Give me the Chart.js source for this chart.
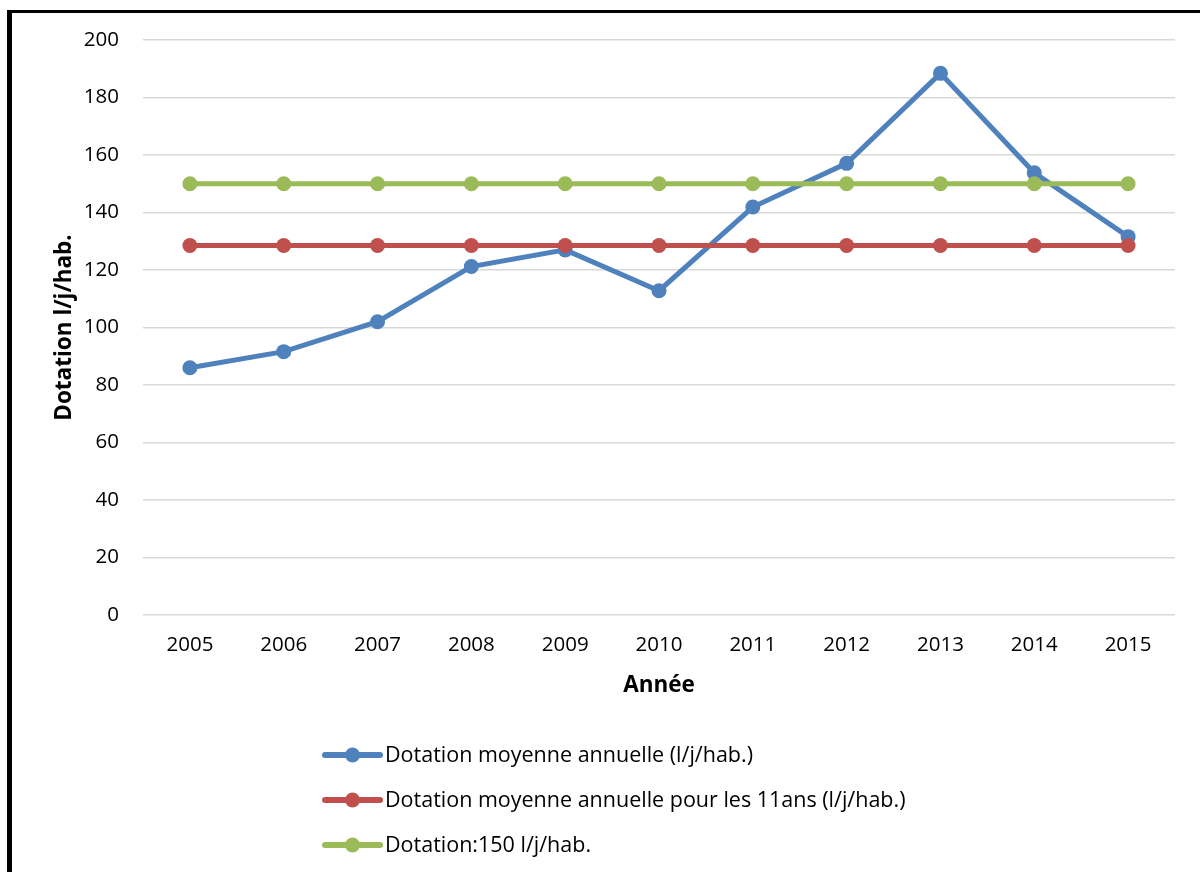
<!DOCTYPE html>
<html>
<head>
<meta charset="utf-8">
<script src="https://cdn.jsdelivr.net/npm/chart.js@4/dist/chart.umd.min.js"></script>
<style>
  html, body { margin: 0; padding: 0; background: #ffffff; }
  #wrap { width: 1200px; height: 872px; position: relative; }
</style>
</head>
<body>
<div id="wrap"><canvas id="c" width="1200" height="872"></canvas></div>
<script>
// Années et dotations (l/j/hab.)
const years = ['2005', '2006', '2007', '2008', '2009', '2010', '2011', '2012', '2013', '2014', '2015'];
const dotationAnnuelle = [86, 91.6, 102, 121.2, 127, 112.8, 141.9, 157.1, 188.4, 153.8, 131.6];
const dotationMoyenne11ans = [128.5, 128.5, 128.5, 128.5, 128.5, 128.5, 128.5, 128.5, 128.5, 128.5, 128.5];
const dotationNorme = [150, 150, 150, 150, 150, 150, 150, 150, 150, 150, 150];
const seriesLabels = [
  'Dotation moyenne annuelle (l/j/hab.)',
  'Dotation moyenne annuelle pour les 11ans (l/j/hab.)',
  'Dotation:150 l/j/hab.'
];
const yTicks = [0, 20, 40, 60, 80, 100, 120, 140, 160, 180, 200];

const FONT = "'Open Sans', 'Noto Sans', sans-serif";
const colors = ['#4f81bd', '#c0504d', '#9bbb59'];

function ds(label, data, color, order) {
  return {
    label, data, order,
    borderColor: color,
    backgroundColor: color,
    pointBackgroundColor: color,
    pointBorderColor: color,
    borderWidth: 5,
    pointRadius: 7.5,
    pointBorderWidth: 0,
    pointHoverRadius: 7.5,
    tension: 0,
    fill: false
  };
}

// White page with the black frame on the left and top edges
const framePlugin = {
  id: 'frame',
  beforeDraw(chart) {
    const ctx = chart.ctx;
    ctx.save();
    ctx.fillStyle = '#ffffff';
    ctx.fillRect(0, 0, chart.width, chart.height);
    ctx.fillStyle = '#000000';
    ctx.fillRect(7, 10, 5, chart.height - 10);
    ctx.fillRect(7, 10, chart.width - 7, 3);
    ctx.restore();
  }
};

// Vertical legend stacked under the axis title
const stackedLegend = {
  id: 'stackedLegend',
  afterDraw(chart, args, opts) {
    const ctx = chart.ctx;
    const sets = chart.data.datasets;
    ctx.save();
    ctx.font = opts.fontSize + 'px ' + FONT;
    ctx.textBaseline = 'middle';
    ctx.textAlign = 'left';
    sets.forEach((d, i) => {
      const y = opts.top + i * opts.rowGap;
      const x0 = opts.left;
      const x1 = x0 + opts.sampleWidth;
      ctx.strokeStyle = d.borderColor;
      ctx.lineWidth = 6;
      ctx.lineCap = 'round';
      ctx.beginPath();
      ctx.moveTo(x0, y);
      ctx.lineTo(x1, y);
      ctx.stroke();
      ctx.fillStyle = d.borderColor;
      ctx.beginPath();
      ctx.arc((x0 + x1) / 2, y, d.pointRadius, 0, Math.PI * 2);
      ctx.fill();
      ctx.fillStyle = '#000000';
      ctx.fillText(d.label, x1 + 5, y + 1);
    });
    ctx.restore();
  }
};

new Chart(document.getElementById('c'), {
  type: 'line',
  data: {
    labels: years,
    datasets: [
      ds(seriesLabels[0], dotationAnnuelle, colors[0], 3),
      ds(seriesLabels[1], dotationMoyenne11ans, colors[1], 2),
      ds(seriesLabels[2], dotationNorme, colors[2], 1)
    ]
  },
  options: {
    responsive: false,
    animation: false,
    devicePixelRatio: 1,
    layout: { padding: { left: 12, top: 40, right: 25, bottom: 167 } },
    plugins: {
      legend: { display: false },
      tooltip: { enabled: false },
      stackedLegend: { left: 325, top: 755, rowGap: 45, sampleWidth: 55, fontSize: 21.5 }
    },
    scales: {
      x: {
        offset: true,
        grid: { display: false, drawTicks: false },
        border: { display: false },
        ticks: { color: '#000000', font: { family: FONT, size: 20.5 }, padding: 18, maxRotation: 0 },
        title: { display: true, text: 'Année', color: '#000000', font: { family: FONT, size: 22.5, weight: 'bold' }, padding: { top: 0, bottom: 6 } },
        afterFit(scale) { scale.height = 90; }
      },
      y: {
        min: 0,
        max: 200,
        afterBuildTicks(scale) { scale.ticks = yTicks.map(v => ({ value: v })); },
        grid: { color: '#d9d9d9', lineWidth: 1.5, drawTicks: false },
        border: { display: false },
        ticks: { color: '#000000', font: { family: FONT, size: 20.5 }, padding: 24 },
        title: { display: true, text: 'Dotation l/j/hab.', color: '#000000', font: { family: FONT, size: 22.5, weight: 'bold' }, padding: { top: 39, bottom: 0 } },
        afterFit(scale) { scale.width = 131; }
      }
    }
  },
  plugins: [framePlugin, stackedLegend]
});
</script>
</body>
</html>
